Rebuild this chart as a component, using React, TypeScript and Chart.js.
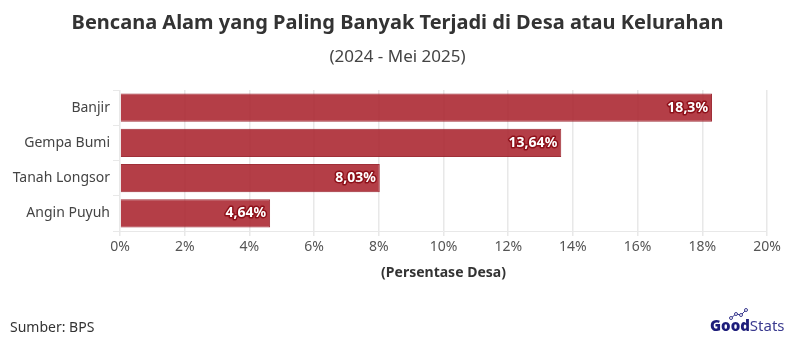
import React, { useEffect, useRef } from "react";
import { Chart, registerables } from "chart.js";

Chart.register(...registerables);

const categories = ["Banjir", "Gempa Bumi", "Tanah Longsor", "Angin Puyuh"];
const values = [18.3, 13.64, 8.03, 4.64];
const xTicks = [0, 2, 4, 6, 8, 10, 12, 14, 16, 18, 20];

const TITLE = "Bencana Alam yang Paling Banyak Terjadi di Desa atau Kelurahan";
const SUBTITLE = "(2024 - Mei 2025)";
const X_TITLE = "(Persentase Desa)";
const SOURCE = "Sumber: BPS";

const fmt = (v: number) => String(v).replace(".", ",") + "%";

const overlayPlugin = {
  id: "overlay",
  afterDatasetsDraw(chart: any) {
    const ctx = chart.ctx;
    const meta = chart.getDatasetMeta(0);
    ctx.save();
    ctx.font = "bold 14px 'Noto Sans', sans-serif";
    ctx.textAlign = "right";
    ctx.textBaseline = "middle";
    ctx.lineJoin = "round";
    meta.data.forEach((bar: any, i: number) => {
      const txt = fmt(values[i]);
      const x = bar.x - 4;
      const y = bar.y;
      ctx.strokeStyle = "#8e1019";
      ctx.lineWidth = 3;
      ctx.strokeText(txt, x, y);
      ctx.fillStyle = "#ffffff";
      ctx.fillText(txt, x, y);
    });
    ctx.restore();
  },
  afterDraw(chart: any) {
    const ctx = chart.ctx;
    const w = chart.width;
    ctx.save();
    ctx.textAlign = "center";
    ctx.textBaseline = "middle";
    ctx.fillStyle = "#333333";
    ctx.font = "bold 20px 'Noto Sans', sans-serif";
    ctx.fillText(TITLE, w / 2, 23);
    ctx.fillStyle = "#444444";
    ctx.font = "17px 'Noto Sans', sans-serif";
    ctx.fillText(SUBTITLE, w / 2, 57);
    ctx.textAlign = "left";
    ctx.fillStyle = "#333333";
    ctx.font = "14px 'Noto Sans', sans-serif";
    ctx.fillText(SOURCE, 10, 328);
    // GoodStats logo
    const lx = 710;
    const ly = 327;
    ctx.font = "900 15px 'Noto Sans', sans-serif";
    ctx.fillStyle = "#1d1d7a";
    ctx.fillText("Good", lx, ly);
    const gw = ctx.measureText("Good").width;
    ctx.font = "15px 'Noto Sans', sans-serif";
    ctx.fillStyle = "#3a3a8f";
    ctx.fillText("Stats", lx + gw, ly);
    ctx.strokeStyle = "#3a3a8f";
    ctx.lineWidth = 1;
    const pts = [
      [lx + 21, ly - 9],
      [lx + 26, ly - 13],
      [lx + 31, ly - 12],
      [lx + 36, ly - 17],
    ];
    ctx.beginPath();
    pts.forEach((p, i) => (i ? ctx.lineTo(p[0], p[1]) : ctx.moveTo(p[0], p[1])));
    ctx.stroke();
    pts.forEach((p) => {
      ctx.beginPath();
      ctx.arc(p[0], p[1], 1.5, 0, Math.PI * 2);
      ctx.fillStyle = "#ffffff";
      ctx.fill();
      ctx.stroke();
    });
    ctx.restore();
  },
};

export default function App() {
  const ref = useRef<HTMLCanvasElement>(null);
  useEffect(() => {
    document.body.style.margin = "0";
    const chart = new Chart(ref.current!, {
      type: "bar",
      data: {
        labels: categories,
        datasets: [
          {
            data: values,
            backgroundColor: "rgba(170, 35, 45, 0.88)",
            borderColor: "rgba(150, 25, 35, 0.9)",
            borderWidth: 1,
            barPercentage: 0.8,
            categoryPercentage: 1,
          },
        ],
      },
      options: {
        indexAxis: "y",
        responsive: false,
        animation: false,
        layout: { padding: { top: 90, right: 28, bottom: 76, left: 0 } },
        plugins: {
          legend: { display: false },
          tooltip: { enabled: false },
        },
        scales: {
          x: {
            min: 0,
            max: 20,
            afterBuildTicks: (s: any) => {
              s.ticks = xTicks.map((v) => ({ value: v }));
            },
            afterFit: (s: any) => {
              s.height = 50;
            },
            ticks: {
              callback: (v: any) => v + "%",
              color: "#555555",
              font: { family: "'Noto Sans', sans-serif", size: 14 },
              padding: 3,
              maxRotation: 0,
            },
            grid: { color: "#e8e8e8", tickLength: 5, lineWidth: 1.5 },
            border: { color: "#e8e8e8" },
            title: {
              display: true,
              text: X_TITLE,
              color: "#333333",
              font: { family: "'Noto Sans', sans-serif", size: 14, weight: "bold" },
              padding: { top: 8, bottom: 0 },
            },
          },
          y: {
            afterFit: (s: any) => {
              s.width = 120;
            },
            ticks: {
              color: "#444444",
              font: { family: "'Noto Sans', sans-serif", size: 14 },
              padding: 3,
            },
            grid: { drawOnChartArea: false, color: "#e8e8e8", tickLength: 7 },
            border: { display: false },
          },
        },
      },
      plugins: [overlayPlugin],
    });
    return () => chart.destroy();
  }, []);
  return <canvas ref={ref} width={795} height={357} style={{ display: "block" }} />;
}
